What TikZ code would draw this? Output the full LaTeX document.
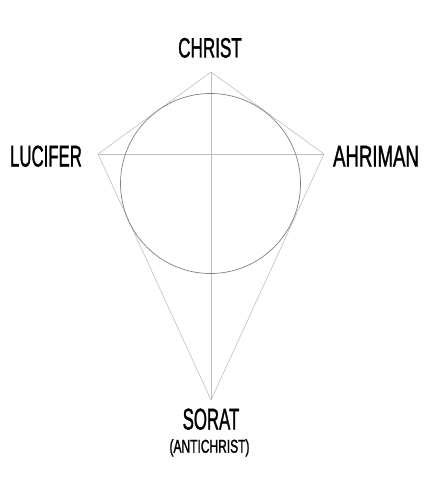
\documentclass[tikz,border=0pt]{standalone}
\usepackage{fontspec}
\usepackage{graphicx}
\setmainfont{Liberation Sans}
\newfontfamily\labelfont{Liberation Sans}[RawFeature={embolden=1.6}]
\newcommand{\condtext}[2][0.57]{\scalebox{#1}[1]{#2}}
\tikzset{
  guide/.style={draw=black!25, line width=0.6pt},
  ring/.style={draw=black!50, line width=0.7pt},
  biglabel/.style={inner sep=0pt, anchor=base, font=\labelfont\fontsize{30}{32}\selectfont},
  smalllabel/.style={inner sep=0pt, anchor=base, font=\labelfont\fontsize{18.6}{20}\selectfont},
}
\begin{document}
\begin{tikzpicture}[x=1pt,y=-1pt]
  \useasboundingbox (0,0) rectangle (431,500);
  \coordinate (top) at (211,72);
  \coordinate (left) at (98,154);
  \coordinate (right) at (324,154);
  \coordinate (bottom) at (211,400);
  \coordinate (centre) at (210.5,183.5);
  \draw[guide] (top) -- (right) -- (bottom) -- (left) -- cycle;
  \draw[guide] (top) -- (bottom);
  \draw[guide] (left) -- (right);
  \draw[ring] (centre) circle[radius=90];
  \node[biglabel, font=\labelfont\fontsize{28}{30}\selectfont] (christ) at (210,57.5) {\condtext[0.61]{CHRIST}};
  \node[biglabel] (lucifer) at (46,166.5) {\condtext[0.56]{LUCIFER}};
  \node[biglabel] (ahriman) at (376,166.5) {\condtext[0.62]{AHRIMAN}};
  \node[biglabel] (sorat) at (211,429.5) {\condtext[0.56]{SORAT}};
  \node[smalllabel] (antichrist) at (209.5,452.7) {\condtext[0.645]{(ANTICHRIST)}};
\end{tikzpicture}
\end{document}
